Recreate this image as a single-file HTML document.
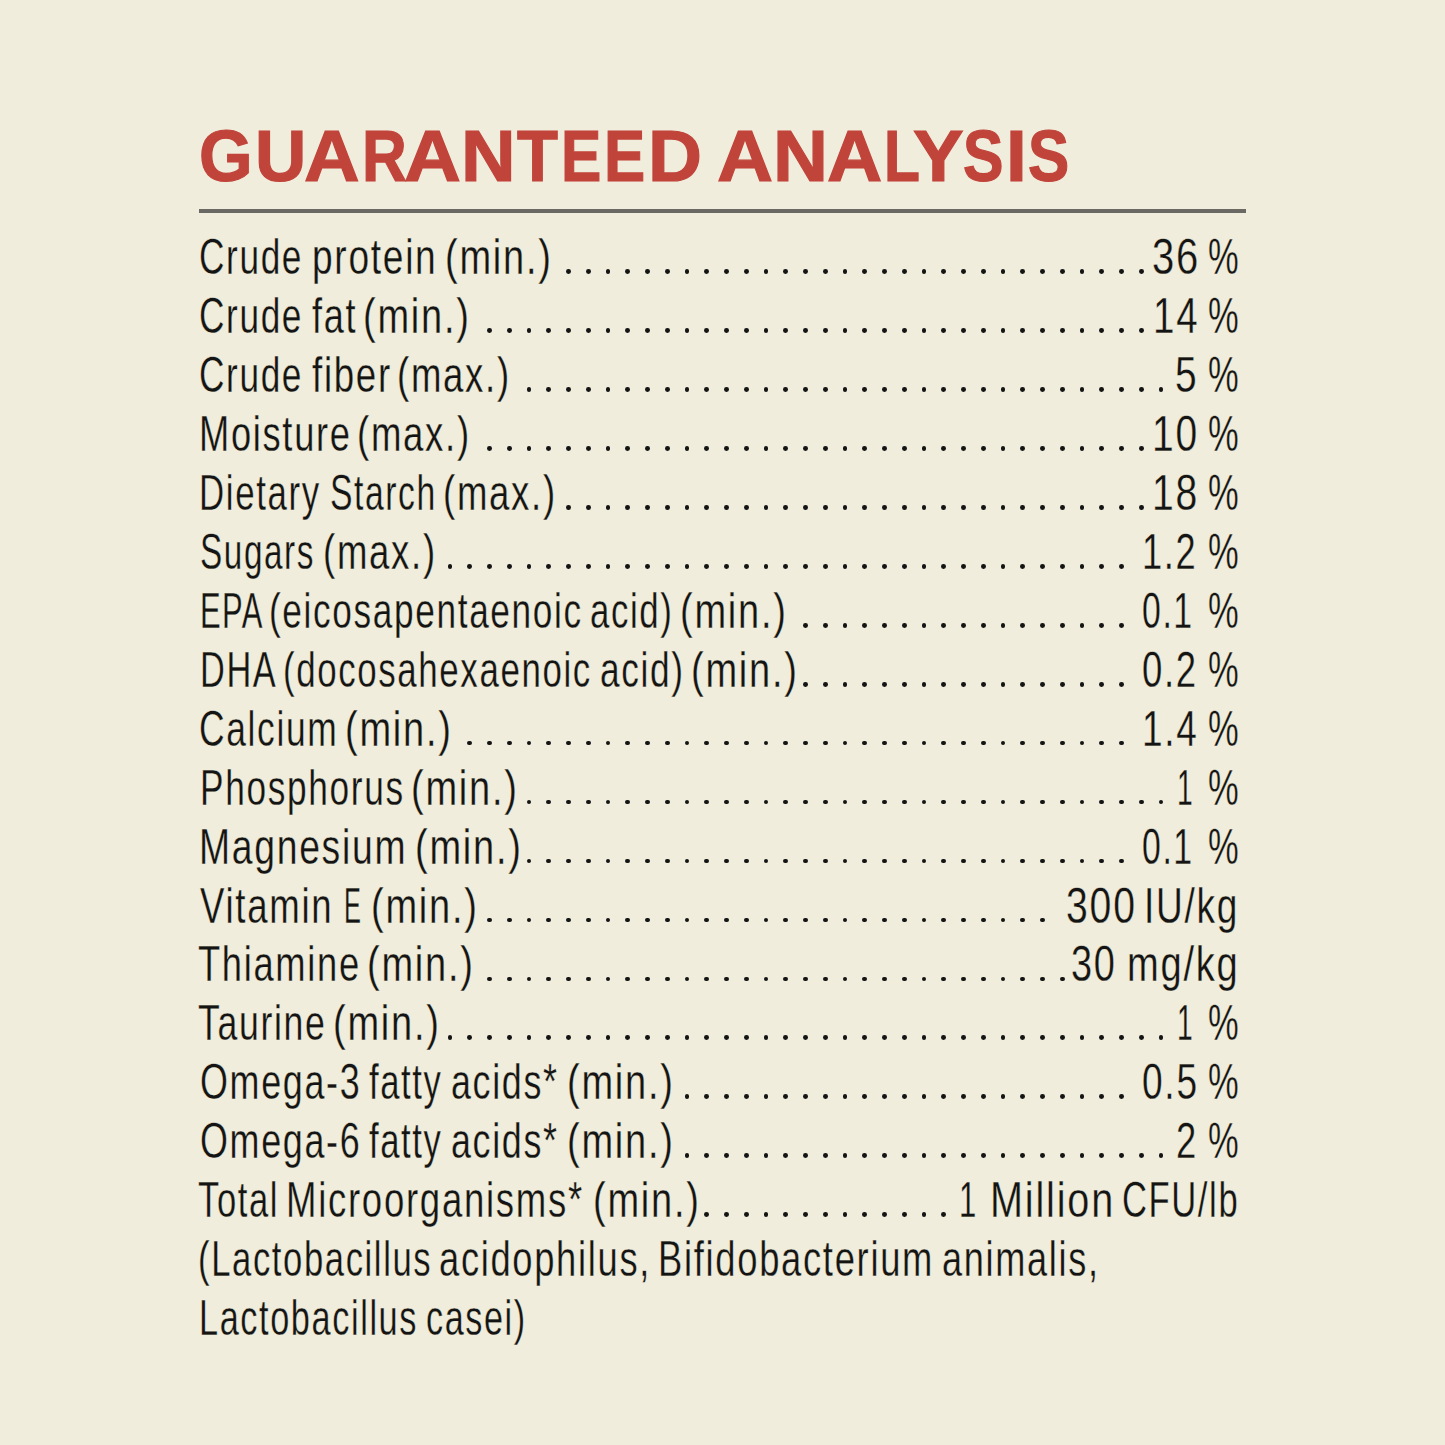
<!DOCTYPE html>
<html><head><meta charset="utf-8">
<style>
html,body{margin:0;padding:0;}
body{width:1445px;height:1445px;background:#F0EDDC;position:relative;overflow:hidden;font-family:"Liberation Sans",sans-serif;}
.w{position:absolute;white-space:nowrap;font-size:49.4px;line-height:49.4px;height:49.4px;color:#141414;transform-origin:0 0;letter-spacing:2.3px;-webkit-text-stroke:0.3px #F0EDDC;}
.d{position:absolute;width:4.8px;height:4.8px;border-radius:50%;background:#141414;}
h1{position:absolute;left:0;top:0;margin:0;width:0;height:0;font-size:0;}
h1 span{position:absolute;white-space:nowrap;font-weight:bold;-webkit-text-stroke:1.2px #C1443B;font-size:72.2px;line-height:72.2px;color:#C1443B;transform-origin:0 0;}
.rule{position:absolute;background:#6B6964;}
</style></head><body>
<h1><span style="left:199.21px;top:120.38px;transform:scaleX(0.9541)">G</span><span style="left:254.85px;top:120.38px;transform:scaleX(0.9839)">U</span><span style="left:304.49px;top:120.38px;transform:scaleX(1.0672)">A</span><span style="left:361.96px;top:120.38px;transform:scaleX(0.8582)">R</span><span style="left:403.96px;top:120.38px;transform:scaleX(1.0914)">A</span><span style="left:460.87px;top:120.38px;transform:scaleX(1.0478)">N</span><span style="left:516.89px;top:120.38px;transform:scaleX(0.9283)">T</span><span style="left:560.65px;top:120.38px;transform:scaleX(0.8366)">E</span><span style="left:604.07px;top:120.38px;transform:scaleX(0.8557)">E</span><span style="left:647.53px;top:120.38px;transform:scaleX(1.0348)">D</span><span style="left:716.68px;top:120.38px;transform:scaleX(1.0752)">A</span><span style="left:772.75px;top:120.38px;transform:scaleX(1.0547)">N</span><span style="left:827.30px;top:120.38px;transform:scaleX(1.0591)">A</span><span style="left:883.84px;top:120.38px;transform:scaleX(0.8145)">L</span><span style="left:912.71px;top:120.38px;transform:scaleX(1.0504)">Y</span><span style="left:962.56px;top:120.38px;transform:scaleX(0.8410)">S</span><span style="left:1006.12px;top:120.38px;transform:scaleX(1.0353)">I</span><span style="left:1028.04px;top:120.38px;transform:scaleX(0.8567)">S</span></h1>
<div class="rule" style="left:198.7px;top:209px;width:1047.3px;height:4px"></div>
<div class="w" style="left:198.94px;top:232.07px;transform:scaleX(0.7127)">Crude</div><div class="w" style="left:312.03px;top:232.07px;transform:scaleX(0.7508)">protein</div><div class="w" style="left:444.54px;top:232.07px;transform:scaleX(0.7692)">(min.)</div><div class="w" style="left:1151.74px;top:232.07px;transform:scaleX(0.8100)">36</div><div class="w" style="left:1207.50px;top:232.07px;transform:scaleX(0.6992)">%</div>
<div class="w" style="left:198.94px;top:291.02px;transform:scaleX(0.7127)">Crude</div><div class="w" style="left:311.72px;top:291.02px;transform:scaleX(0.7311)">fat</div><div class="w" style="left:363.24px;top:291.02px;transform:scaleX(0.7692)">(min.)</div><div class="w" style="left:1152.61px;top:291.02px;transform:scaleX(0.7772)">14</div><div class="w" style="left:1207.50px;top:291.02px;transform:scaleX(0.6992)">%</div>
<div class="w" style="left:198.94px;top:349.97px;transform:scaleX(0.7127)">Crude</div><div class="w" style="left:311.71px;top:349.97px;transform:scaleX(0.7420)">fiber</div><div class="w" style="left:397.43px;top:349.97px;transform:scaleX(0.7404)">(max.)</div><div class="w" style="left:1175.07px;top:349.97px;transform:scaleX(0.7884)">5</div><div class="w" style="left:1207.50px;top:349.97px;transform:scaleX(0.6992)">%</div>
<div class="w" style="left:199.34px;top:408.92px;transform:scaleX(0.7346)">Moisture</div><div class="w" style="left:357.13px;top:408.92px;transform:scaleX(0.7404)">(max.)</div><div class="w" style="left:1151.97px;top:408.92px;transform:scaleX(0.7889)">10</div><div class="w" style="left:1207.50px;top:408.92px;transform:scaleX(0.6992)">%</div>
<div class="w" style="left:198.76px;top:467.87px;transform:scaleX(0.7052)">Dietary</div><div class="w" style="left:329.98px;top:467.87px;transform:scaleX(0.6822)">Starch</div><div class="w" style="left:442.63px;top:467.87px;transform:scaleX(0.7404)">(max.)</div><div class="w" style="left:1151.96px;top:467.87px;transform:scaleX(0.7915)">18</div><div class="w" style="left:1207.50px;top:467.87px;transform:scaleX(0.6992)">%</div>
<div class="w" style="left:199.89px;top:526.82px;transform:scaleX(0.6752)">Sugars</div><div class="w" style="left:323.33px;top:526.82px;transform:scaleX(0.7404)">(max.)</div><div class="w" style="left:1142.48px;top:526.82px;transform:scaleX(0.7333)">1.2</div><div class="w" style="left:1207.50px;top:526.82px;transform:scaleX(0.6992)">%</div>
<div class="w" style="left:199.87px;top:585.77px;transform:scaleX(0.6265)">EPA</div><div class="w" style="left:269.21px;top:585.77px;transform:scaleX(0.7131)">(eicosapentaenoic</div><div class="w" style="left:590.32px;top:585.77px;transform:scaleX(0.7039)">acid)</div><div class="w" style="left:680.24px;top:585.77px;transform:scaleX(0.7692)">(min.)</div><div class="w" style="left:1142.15px;top:585.77px;transform:scaleX(0.6850)">0.1</div><div class="w" style="left:1207.50px;top:585.77px;transform:scaleX(0.6992)">%</div>
<div class="w" style="left:199.60px;top:644.72px;transform:scaleX(0.6954)">DHA</div><div class="w" style="left:282.53px;top:644.72px;transform:scaleX(0.7056)">(docosahexaenoic</div><div class="w" style="left:599.80px;top:644.72px;transform:scaleX(0.7138)">acid)</div><div class="w" style="left:690.64px;top:644.72px;transform:scaleX(0.7692)">(min.)</div><div class="w" style="left:1142.05px;top:644.72px;transform:scaleX(0.7394)">0.2</div><div class="w" style="left:1207.50px;top:644.72px;transform:scaleX(0.6992)">%</div>
<div class="w" style="left:198.83px;top:703.67px;transform:scaleX(0.7171)">Calcium</div><div class="w" style="left:345.29px;top:703.67px;transform:scaleX(0.7692)">(min.)</div><div class="w" style="left:1142.03px;top:703.67px;transform:scaleX(0.7472)">1.4</div><div class="w" style="left:1207.50px;top:703.67px;transform:scaleX(0.6992)">%</div>
<div class="w" style="left:200.12px;top:762.62px;transform:scaleX(0.7142)">Phosphorus</div><div class="w" style="left:411.39px;top:762.62px;transform:scaleX(0.7692)">(min.)</div><div class="w" style="left:1177.20px;top:762.62px;transform:scaleX(0.5711)">1</div><div class="w" style="left:1207.50px;top:762.62px;transform:scaleX(0.6992)">%</div>
<div class="w" style="left:198.86px;top:821.57px;transform:scaleX(0.7545)">Magnesium</div><div class="w" style="left:415.24px;top:821.57px;transform:scaleX(0.7692)">(min.)</div><div class="w" style="left:1142.15px;top:821.57px;transform:scaleX(0.6850)">0.1</div><div class="w" style="left:1207.50px;top:821.57px;transform:scaleX(0.6992)">%</div>
<div class="w" style="left:200.42px;top:880.52px;transform:scaleX(0.7408)">Vitamin</div><div class="w" style="left:344.23px;top:880.52px;transform:scaleX(0.5140)">E</div><div class="w" style="left:371.19px;top:880.52px;transform:scaleX(0.7692)">(min.)</div><div class="w" style="left:1066.48px;top:880.52px;transform:scaleX(0.7931)">300</div><div class="w" style="left:1144.23px;top:880.52px;transform:scaleX(0.7491)">IU/kg</div>
<div class="w" style="left:197.61px;top:939.47px;transform:scaleX(0.7349)">Thiamine</div><div class="w" style="left:367.09px;top:939.47px;transform:scaleX(0.7692)">(min.)</div><div class="w" style="left:1070.53px;top:939.47px;transform:scaleX(0.7678)">30</div><div class="w" style="left:1126.79px;top:939.47px;transform:scaleX(0.7703)">mg/kg</div>
<div class="w" style="left:197.62px;top:998.42px;transform:scaleX(0.7220)">Taurine</div><div class="w" style="left:332.89px;top:998.42px;transform:scaleX(0.7692)">(min.)</div><div class="w" style="left:1177.20px;top:998.42px;transform:scaleX(0.5711)">1</div><div class="w" style="left:1207.50px;top:998.42px;transform:scaleX(0.6992)">%</div>
<div class="w" style="left:199.51px;top:1057.37px;transform:scaleX(0.7269)">Omega-3</div><div class="w" style="left:369.15px;top:1057.37px;transform:scaleX(0.7009)">fatty</div><div class="w" style="left:451.27px;top:1057.37px;transform:scaleX(0.7263)">acids*</div><div class="w" style="left:567.34px;top:1057.37px;transform:scaleX(0.7692)">(min.)</div><div class="w" style="left:1141.72px;top:1057.37px;transform:scaleX(0.7511)">0.5</div><div class="w" style="left:1207.50px;top:1057.37px;transform:scaleX(0.6992)">%</div>
<div class="w" style="left:199.51px;top:1116.32px;transform:scaleX(0.7268)">Omega-6</div><div class="w" style="left:369.15px;top:1116.32px;transform:scaleX(0.7009)">fatty</div><div class="w" style="left:451.27px;top:1116.32px;transform:scaleX(0.7263)">acids*</div><div class="w" style="left:567.34px;top:1116.32px;transform:scaleX(0.7692)">(min.)</div><div class="w" style="left:1175.66px;top:1116.32px;transform:scaleX(0.7377)">2</div><div class="w" style="left:1207.50px;top:1116.32px;transform:scaleX(0.6992)">%</div>
<div class="w" style="left:197.85px;top:1175.27px;transform:scaleX(0.6998)">Total</div><div class="w" style="left:286.31px;top:1175.27px;transform:scaleX(0.7405)">Microorganisms*</div><div class="w" style="left:592.89px;top:1175.27px;transform:scaleX(0.7692)">(min.)</div><div class="w" style="left:958.79px;top:1175.27px;transform:scaleX(0.6277)">1</div><div class="w" style="left:989.67px;top:1175.27px;transform:scaleX(0.8015)">Million</div><div class="w" style="left:1121.67px;top:1175.27px;transform:scaleX(0.6999)">CFU/lb</div>
<div class="w" style="left:197.65px;top:1234.22px;transform:scaleX(0.7010)">(Lactobacillus</div><div class="w" style="left:439.25px;top:1234.22px;transform:scaleX(0.7350)">acidophilus,</div><div class="w" style="left:657.73px;top:1234.22px;transform:scaleX(0.7364)">Bifidobacterium</div><div class="w" style="left:942.46px;top:1234.22px;transform:scaleX(0.7314)">animalis,</div>
<div class="w" style="left:198.60px;top:1293.17px;transform:scaleX(0.6943)">Lactobacillus</div><div class="w" style="left:425.97px;top:1293.17px;transform:scaleX(0.6921)">casei)</div>
<div class="d" style="left:566.00px;top:269.10px"></div><div class="d" style="left:585.75px;top:269.10px"></div><div class="d" style="left:605.50px;top:269.10px"></div><div class="d" style="left:625.25px;top:269.10px"></div><div class="d" style="left:645.00px;top:269.10px"></div><div class="d" style="left:664.75px;top:269.10px"></div><div class="d" style="left:684.50px;top:269.10px"></div><div class="d" style="left:704.25px;top:269.10px"></div><div class="d" style="left:724.00px;top:269.10px"></div><div class="d" style="left:743.75px;top:269.10px"></div><div class="d" style="left:763.50px;top:269.10px"></div><div class="d" style="left:783.25px;top:269.10px"></div><div class="d" style="left:803.00px;top:269.10px"></div><div class="d" style="left:822.75px;top:269.10px"></div><div class="d" style="left:842.50px;top:269.10px"></div><div class="d" style="left:862.25px;top:269.10px"></div><div class="d" style="left:882.00px;top:269.10px"></div><div class="d" style="left:901.75px;top:269.10px"></div><div class="d" style="left:921.50px;top:269.10px"></div><div class="d" style="left:941.25px;top:269.10px"></div><div class="d" style="left:961.00px;top:269.10px"></div><div class="d" style="left:980.75px;top:269.10px"></div><div class="d" style="left:1000.50px;top:269.10px"></div><div class="d" style="left:1020.25px;top:269.10px"></div><div class="d" style="left:1040.00px;top:269.10px"></div><div class="d" style="left:1059.75px;top:269.10px"></div><div class="d" style="left:1079.50px;top:269.10px"></div><div class="d" style="left:1099.25px;top:269.10px"></div><div class="d" style="left:1119.00px;top:269.10px"></div><div class="d" style="left:1138.75px;top:269.10px"></div>
<div class="d" style="left:487.00px;top:328.05px"></div><div class="d" style="left:506.75px;top:328.05px"></div><div class="d" style="left:526.50px;top:328.05px"></div><div class="d" style="left:546.25px;top:328.05px"></div><div class="d" style="left:566.00px;top:328.05px"></div><div class="d" style="left:585.75px;top:328.05px"></div><div class="d" style="left:605.50px;top:328.05px"></div><div class="d" style="left:625.25px;top:328.05px"></div><div class="d" style="left:645.00px;top:328.05px"></div><div class="d" style="left:664.75px;top:328.05px"></div><div class="d" style="left:684.50px;top:328.05px"></div><div class="d" style="left:704.25px;top:328.05px"></div><div class="d" style="left:724.00px;top:328.05px"></div><div class="d" style="left:743.75px;top:328.05px"></div><div class="d" style="left:763.50px;top:328.05px"></div><div class="d" style="left:783.25px;top:328.05px"></div><div class="d" style="left:803.00px;top:328.05px"></div><div class="d" style="left:822.75px;top:328.05px"></div><div class="d" style="left:842.50px;top:328.05px"></div><div class="d" style="left:862.25px;top:328.05px"></div><div class="d" style="left:882.00px;top:328.05px"></div><div class="d" style="left:901.75px;top:328.05px"></div><div class="d" style="left:921.50px;top:328.05px"></div><div class="d" style="left:941.25px;top:328.05px"></div><div class="d" style="left:961.00px;top:328.05px"></div><div class="d" style="left:980.75px;top:328.05px"></div><div class="d" style="left:1000.50px;top:328.05px"></div><div class="d" style="left:1020.25px;top:328.05px"></div><div class="d" style="left:1040.00px;top:328.05px"></div><div class="d" style="left:1059.75px;top:328.05px"></div><div class="d" style="left:1079.50px;top:328.05px"></div><div class="d" style="left:1099.25px;top:328.05px"></div><div class="d" style="left:1119.00px;top:328.05px"></div><div class="d" style="left:1138.75px;top:328.05px"></div>
<div class="d" style="left:526.50px;top:387.00px"></div><div class="d" style="left:546.25px;top:387.00px"></div><div class="d" style="left:566.00px;top:387.00px"></div><div class="d" style="left:585.75px;top:387.00px"></div><div class="d" style="left:605.50px;top:387.00px"></div><div class="d" style="left:625.25px;top:387.00px"></div><div class="d" style="left:645.00px;top:387.00px"></div><div class="d" style="left:664.75px;top:387.00px"></div><div class="d" style="left:684.50px;top:387.00px"></div><div class="d" style="left:704.25px;top:387.00px"></div><div class="d" style="left:724.00px;top:387.00px"></div><div class="d" style="left:743.75px;top:387.00px"></div><div class="d" style="left:763.50px;top:387.00px"></div><div class="d" style="left:783.25px;top:387.00px"></div><div class="d" style="left:803.00px;top:387.00px"></div><div class="d" style="left:822.75px;top:387.00px"></div><div class="d" style="left:842.50px;top:387.00px"></div><div class="d" style="left:862.25px;top:387.00px"></div><div class="d" style="left:882.00px;top:387.00px"></div><div class="d" style="left:901.75px;top:387.00px"></div><div class="d" style="left:921.50px;top:387.00px"></div><div class="d" style="left:941.25px;top:387.00px"></div><div class="d" style="left:961.00px;top:387.00px"></div><div class="d" style="left:980.75px;top:387.00px"></div><div class="d" style="left:1000.50px;top:387.00px"></div><div class="d" style="left:1020.25px;top:387.00px"></div><div class="d" style="left:1040.00px;top:387.00px"></div><div class="d" style="left:1059.75px;top:387.00px"></div><div class="d" style="left:1079.50px;top:387.00px"></div><div class="d" style="left:1099.25px;top:387.00px"></div><div class="d" style="left:1119.00px;top:387.00px"></div><div class="d" style="left:1138.75px;top:387.00px"></div><div class="d" style="left:1158.50px;top:387.00px"></div>
<div class="d" style="left:487.00px;top:445.95px"></div><div class="d" style="left:506.75px;top:445.95px"></div><div class="d" style="left:526.50px;top:445.95px"></div><div class="d" style="left:546.25px;top:445.95px"></div><div class="d" style="left:566.00px;top:445.95px"></div><div class="d" style="left:585.75px;top:445.95px"></div><div class="d" style="left:605.50px;top:445.95px"></div><div class="d" style="left:625.25px;top:445.95px"></div><div class="d" style="left:645.00px;top:445.95px"></div><div class="d" style="left:664.75px;top:445.95px"></div><div class="d" style="left:684.50px;top:445.95px"></div><div class="d" style="left:704.25px;top:445.95px"></div><div class="d" style="left:724.00px;top:445.95px"></div><div class="d" style="left:743.75px;top:445.95px"></div><div class="d" style="left:763.50px;top:445.95px"></div><div class="d" style="left:783.25px;top:445.95px"></div><div class="d" style="left:803.00px;top:445.95px"></div><div class="d" style="left:822.75px;top:445.95px"></div><div class="d" style="left:842.50px;top:445.95px"></div><div class="d" style="left:862.25px;top:445.95px"></div><div class="d" style="left:882.00px;top:445.95px"></div><div class="d" style="left:901.75px;top:445.95px"></div><div class="d" style="left:921.50px;top:445.95px"></div><div class="d" style="left:941.25px;top:445.95px"></div><div class="d" style="left:961.00px;top:445.95px"></div><div class="d" style="left:980.75px;top:445.95px"></div><div class="d" style="left:1000.50px;top:445.95px"></div><div class="d" style="left:1020.25px;top:445.95px"></div><div class="d" style="left:1040.00px;top:445.95px"></div><div class="d" style="left:1059.75px;top:445.95px"></div><div class="d" style="left:1079.50px;top:445.95px"></div><div class="d" style="left:1099.25px;top:445.95px"></div><div class="d" style="left:1119.00px;top:445.95px"></div><div class="d" style="left:1138.75px;top:445.95px"></div>
<div class="d" style="left:566.00px;top:504.90px"></div><div class="d" style="left:585.75px;top:504.90px"></div><div class="d" style="left:605.50px;top:504.90px"></div><div class="d" style="left:625.25px;top:504.90px"></div><div class="d" style="left:645.00px;top:504.90px"></div><div class="d" style="left:664.75px;top:504.90px"></div><div class="d" style="left:684.50px;top:504.90px"></div><div class="d" style="left:704.25px;top:504.90px"></div><div class="d" style="left:724.00px;top:504.90px"></div><div class="d" style="left:743.75px;top:504.90px"></div><div class="d" style="left:763.50px;top:504.90px"></div><div class="d" style="left:783.25px;top:504.90px"></div><div class="d" style="left:803.00px;top:504.90px"></div><div class="d" style="left:822.75px;top:504.90px"></div><div class="d" style="left:842.50px;top:504.90px"></div><div class="d" style="left:862.25px;top:504.90px"></div><div class="d" style="left:882.00px;top:504.90px"></div><div class="d" style="left:901.75px;top:504.90px"></div><div class="d" style="left:921.50px;top:504.90px"></div><div class="d" style="left:941.25px;top:504.90px"></div><div class="d" style="left:961.00px;top:504.90px"></div><div class="d" style="left:980.75px;top:504.90px"></div><div class="d" style="left:1000.50px;top:504.90px"></div><div class="d" style="left:1020.25px;top:504.90px"></div><div class="d" style="left:1040.00px;top:504.90px"></div><div class="d" style="left:1059.75px;top:504.90px"></div><div class="d" style="left:1079.50px;top:504.90px"></div><div class="d" style="left:1099.25px;top:504.90px"></div><div class="d" style="left:1119.00px;top:504.90px"></div><div class="d" style="left:1138.75px;top:504.90px"></div>
<div class="d" style="left:447.50px;top:563.85px"></div><div class="d" style="left:467.25px;top:563.85px"></div><div class="d" style="left:487.00px;top:563.85px"></div><div class="d" style="left:506.75px;top:563.85px"></div><div class="d" style="left:526.50px;top:563.85px"></div><div class="d" style="left:546.25px;top:563.85px"></div><div class="d" style="left:566.00px;top:563.85px"></div><div class="d" style="left:585.75px;top:563.85px"></div><div class="d" style="left:605.50px;top:563.85px"></div><div class="d" style="left:625.25px;top:563.85px"></div><div class="d" style="left:645.00px;top:563.85px"></div><div class="d" style="left:664.75px;top:563.85px"></div><div class="d" style="left:684.50px;top:563.85px"></div><div class="d" style="left:704.25px;top:563.85px"></div><div class="d" style="left:724.00px;top:563.85px"></div><div class="d" style="left:743.75px;top:563.85px"></div><div class="d" style="left:763.50px;top:563.85px"></div><div class="d" style="left:783.25px;top:563.85px"></div><div class="d" style="left:803.00px;top:563.85px"></div><div class="d" style="left:822.75px;top:563.85px"></div><div class="d" style="left:842.50px;top:563.85px"></div><div class="d" style="left:862.25px;top:563.85px"></div><div class="d" style="left:882.00px;top:563.85px"></div><div class="d" style="left:901.75px;top:563.85px"></div><div class="d" style="left:921.50px;top:563.85px"></div><div class="d" style="left:941.25px;top:563.85px"></div><div class="d" style="left:961.00px;top:563.85px"></div><div class="d" style="left:980.75px;top:563.85px"></div><div class="d" style="left:1000.50px;top:563.85px"></div><div class="d" style="left:1020.25px;top:563.85px"></div><div class="d" style="left:1040.00px;top:563.85px"></div><div class="d" style="left:1059.75px;top:563.85px"></div><div class="d" style="left:1079.50px;top:563.85px"></div><div class="d" style="left:1099.25px;top:563.85px"></div><div class="d" style="left:1119.00px;top:563.85px"></div>
<div class="d" style="left:803.00px;top:622.80px"></div><div class="d" style="left:822.75px;top:622.80px"></div><div class="d" style="left:842.50px;top:622.80px"></div><div class="d" style="left:862.25px;top:622.80px"></div><div class="d" style="left:882.00px;top:622.80px"></div><div class="d" style="left:901.75px;top:622.80px"></div><div class="d" style="left:921.50px;top:622.80px"></div><div class="d" style="left:941.25px;top:622.80px"></div><div class="d" style="left:961.00px;top:622.80px"></div><div class="d" style="left:980.75px;top:622.80px"></div><div class="d" style="left:1000.50px;top:622.80px"></div><div class="d" style="left:1020.25px;top:622.80px"></div><div class="d" style="left:1040.00px;top:622.80px"></div><div class="d" style="left:1059.75px;top:622.80px"></div><div class="d" style="left:1079.50px;top:622.80px"></div><div class="d" style="left:1099.25px;top:622.80px"></div><div class="d" style="left:1119.00px;top:622.80px"></div>
<div class="d" style="left:803.00px;top:681.75px"></div><div class="d" style="left:822.75px;top:681.75px"></div><div class="d" style="left:842.50px;top:681.75px"></div><div class="d" style="left:862.25px;top:681.75px"></div><div class="d" style="left:882.00px;top:681.75px"></div><div class="d" style="left:901.75px;top:681.75px"></div><div class="d" style="left:921.50px;top:681.75px"></div><div class="d" style="left:941.25px;top:681.75px"></div><div class="d" style="left:961.00px;top:681.75px"></div><div class="d" style="left:980.75px;top:681.75px"></div><div class="d" style="left:1000.50px;top:681.75px"></div><div class="d" style="left:1020.25px;top:681.75px"></div><div class="d" style="left:1040.00px;top:681.75px"></div><div class="d" style="left:1059.75px;top:681.75px"></div><div class="d" style="left:1079.50px;top:681.75px"></div><div class="d" style="left:1099.25px;top:681.75px"></div><div class="d" style="left:1119.00px;top:681.75px"></div>
<div class="d" style="left:467.25px;top:740.70px"></div><div class="d" style="left:487.00px;top:740.70px"></div><div class="d" style="left:506.75px;top:740.70px"></div><div class="d" style="left:526.50px;top:740.70px"></div><div class="d" style="left:546.25px;top:740.70px"></div><div class="d" style="left:566.00px;top:740.70px"></div><div class="d" style="left:585.75px;top:740.70px"></div><div class="d" style="left:605.50px;top:740.70px"></div><div class="d" style="left:625.25px;top:740.70px"></div><div class="d" style="left:645.00px;top:740.70px"></div><div class="d" style="left:664.75px;top:740.70px"></div><div class="d" style="left:684.50px;top:740.70px"></div><div class="d" style="left:704.25px;top:740.70px"></div><div class="d" style="left:724.00px;top:740.70px"></div><div class="d" style="left:743.75px;top:740.70px"></div><div class="d" style="left:763.50px;top:740.70px"></div><div class="d" style="left:783.25px;top:740.70px"></div><div class="d" style="left:803.00px;top:740.70px"></div><div class="d" style="left:822.75px;top:740.70px"></div><div class="d" style="left:842.50px;top:740.70px"></div><div class="d" style="left:862.25px;top:740.70px"></div><div class="d" style="left:882.00px;top:740.70px"></div><div class="d" style="left:901.75px;top:740.70px"></div><div class="d" style="left:921.50px;top:740.70px"></div><div class="d" style="left:941.25px;top:740.70px"></div><div class="d" style="left:961.00px;top:740.70px"></div><div class="d" style="left:980.75px;top:740.70px"></div><div class="d" style="left:1000.50px;top:740.70px"></div><div class="d" style="left:1020.25px;top:740.70px"></div><div class="d" style="left:1040.00px;top:740.70px"></div><div class="d" style="left:1059.75px;top:740.70px"></div><div class="d" style="left:1079.50px;top:740.70px"></div><div class="d" style="left:1099.25px;top:740.70px"></div><div class="d" style="left:1119.00px;top:740.70px"></div>
<div class="d" style="left:526.50px;top:799.65px"></div><div class="d" style="left:546.25px;top:799.65px"></div><div class="d" style="left:566.00px;top:799.65px"></div><div class="d" style="left:585.75px;top:799.65px"></div><div class="d" style="left:605.50px;top:799.65px"></div><div class="d" style="left:625.25px;top:799.65px"></div><div class="d" style="left:645.00px;top:799.65px"></div><div class="d" style="left:664.75px;top:799.65px"></div><div class="d" style="left:684.50px;top:799.65px"></div><div class="d" style="left:704.25px;top:799.65px"></div><div class="d" style="left:724.00px;top:799.65px"></div><div class="d" style="left:743.75px;top:799.65px"></div><div class="d" style="left:763.50px;top:799.65px"></div><div class="d" style="left:783.25px;top:799.65px"></div><div class="d" style="left:803.00px;top:799.65px"></div><div class="d" style="left:822.75px;top:799.65px"></div><div class="d" style="left:842.50px;top:799.65px"></div><div class="d" style="left:862.25px;top:799.65px"></div><div class="d" style="left:882.00px;top:799.65px"></div><div class="d" style="left:901.75px;top:799.65px"></div><div class="d" style="left:921.50px;top:799.65px"></div><div class="d" style="left:941.25px;top:799.65px"></div><div class="d" style="left:961.00px;top:799.65px"></div><div class="d" style="left:980.75px;top:799.65px"></div><div class="d" style="left:1000.50px;top:799.65px"></div><div class="d" style="left:1020.25px;top:799.65px"></div><div class="d" style="left:1040.00px;top:799.65px"></div><div class="d" style="left:1059.75px;top:799.65px"></div><div class="d" style="left:1079.50px;top:799.65px"></div><div class="d" style="left:1099.25px;top:799.65px"></div><div class="d" style="left:1119.00px;top:799.65px"></div><div class="d" style="left:1138.75px;top:799.65px"></div><div class="d" style="left:1158.50px;top:799.65px"></div>
<div class="d" style="left:526.50px;top:858.60px"></div><div class="d" style="left:546.25px;top:858.60px"></div><div class="d" style="left:566.00px;top:858.60px"></div><div class="d" style="left:585.75px;top:858.60px"></div><div class="d" style="left:605.50px;top:858.60px"></div><div class="d" style="left:625.25px;top:858.60px"></div><div class="d" style="left:645.00px;top:858.60px"></div><div class="d" style="left:664.75px;top:858.60px"></div><div class="d" style="left:684.50px;top:858.60px"></div><div class="d" style="left:704.25px;top:858.60px"></div><div class="d" style="left:724.00px;top:858.60px"></div><div class="d" style="left:743.75px;top:858.60px"></div><div class="d" style="left:763.50px;top:858.60px"></div><div class="d" style="left:783.25px;top:858.60px"></div><div class="d" style="left:803.00px;top:858.60px"></div><div class="d" style="left:822.75px;top:858.60px"></div><div class="d" style="left:842.50px;top:858.60px"></div><div class="d" style="left:862.25px;top:858.60px"></div><div class="d" style="left:882.00px;top:858.60px"></div><div class="d" style="left:901.75px;top:858.60px"></div><div class="d" style="left:921.50px;top:858.60px"></div><div class="d" style="left:941.25px;top:858.60px"></div><div class="d" style="left:961.00px;top:858.60px"></div><div class="d" style="left:980.75px;top:858.60px"></div><div class="d" style="left:1000.50px;top:858.60px"></div><div class="d" style="left:1020.25px;top:858.60px"></div><div class="d" style="left:1040.00px;top:858.60px"></div><div class="d" style="left:1059.75px;top:858.60px"></div><div class="d" style="left:1079.50px;top:858.60px"></div><div class="d" style="left:1099.25px;top:858.60px"></div><div class="d" style="left:1119.00px;top:858.60px"></div>
<div class="d" style="left:487.00px;top:917.55px"></div><div class="d" style="left:506.75px;top:917.55px"></div><div class="d" style="left:526.50px;top:917.55px"></div><div class="d" style="left:546.25px;top:917.55px"></div><div class="d" style="left:566.00px;top:917.55px"></div><div class="d" style="left:585.75px;top:917.55px"></div><div class="d" style="left:605.50px;top:917.55px"></div><div class="d" style="left:625.25px;top:917.55px"></div><div class="d" style="left:645.00px;top:917.55px"></div><div class="d" style="left:664.75px;top:917.55px"></div><div class="d" style="left:684.50px;top:917.55px"></div><div class="d" style="left:704.25px;top:917.55px"></div><div class="d" style="left:724.00px;top:917.55px"></div><div class="d" style="left:743.75px;top:917.55px"></div><div class="d" style="left:763.50px;top:917.55px"></div><div class="d" style="left:783.25px;top:917.55px"></div><div class="d" style="left:803.00px;top:917.55px"></div><div class="d" style="left:822.75px;top:917.55px"></div><div class="d" style="left:842.50px;top:917.55px"></div><div class="d" style="left:862.25px;top:917.55px"></div><div class="d" style="left:882.00px;top:917.55px"></div><div class="d" style="left:901.75px;top:917.55px"></div><div class="d" style="left:921.50px;top:917.55px"></div><div class="d" style="left:941.25px;top:917.55px"></div><div class="d" style="left:961.00px;top:917.55px"></div><div class="d" style="left:980.75px;top:917.55px"></div><div class="d" style="left:1000.50px;top:917.55px"></div><div class="d" style="left:1020.25px;top:917.55px"></div><div class="d" style="left:1040.00px;top:917.55px"></div>
<div class="d" style="left:487.00px;top:976.50px"></div><div class="d" style="left:506.75px;top:976.50px"></div><div class="d" style="left:526.50px;top:976.50px"></div><div class="d" style="left:546.25px;top:976.50px"></div><div class="d" style="left:566.00px;top:976.50px"></div><div class="d" style="left:585.75px;top:976.50px"></div><div class="d" style="left:605.50px;top:976.50px"></div><div class="d" style="left:625.25px;top:976.50px"></div><div class="d" style="left:645.00px;top:976.50px"></div><div class="d" style="left:664.75px;top:976.50px"></div><div class="d" style="left:684.50px;top:976.50px"></div><div class="d" style="left:704.25px;top:976.50px"></div><div class="d" style="left:724.00px;top:976.50px"></div><div class="d" style="left:743.75px;top:976.50px"></div><div class="d" style="left:763.50px;top:976.50px"></div><div class="d" style="left:783.25px;top:976.50px"></div><div class="d" style="left:803.00px;top:976.50px"></div><div class="d" style="left:822.75px;top:976.50px"></div><div class="d" style="left:842.50px;top:976.50px"></div><div class="d" style="left:862.25px;top:976.50px"></div><div class="d" style="left:882.00px;top:976.50px"></div><div class="d" style="left:901.75px;top:976.50px"></div><div class="d" style="left:921.50px;top:976.50px"></div><div class="d" style="left:941.25px;top:976.50px"></div><div class="d" style="left:961.00px;top:976.50px"></div><div class="d" style="left:980.75px;top:976.50px"></div><div class="d" style="left:1000.50px;top:976.50px"></div><div class="d" style="left:1020.25px;top:976.50px"></div><div class="d" style="left:1040.00px;top:976.50px"></div><div class="d" style="left:1059.75px;top:976.50px"></div>
<div class="d" style="left:447.50px;top:1035.45px"></div><div class="d" style="left:467.25px;top:1035.45px"></div><div class="d" style="left:487.00px;top:1035.45px"></div><div class="d" style="left:506.75px;top:1035.45px"></div><div class="d" style="left:526.50px;top:1035.45px"></div><div class="d" style="left:546.25px;top:1035.45px"></div><div class="d" style="left:566.00px;top:1035.45px"></div><div class="d" style="left:585.75px;top:1035.45px"></div><div class="d" style="left:605.50px;top:1035.45px"></div><div class="d" style="left:625.25px;top:1035.45px"></div><div class="d" style="left:645.00px;top:1035.45px"></div><div class="d" style="left:664.75px;top:1035.45px"></div><div class="d" style="left:684.50px;top:1035.45px"></div><div class="d" style="left:704.25px;top:1035.45px"></div><div class="d" style="left:724.00px;top:1035.45px"></div><div class="d" style="left:743.75px;top:1035.45px"></div><div class="d" style="left:763.50px;top:1035.45px"></div><div class="d" style="left:783.25px;top:1035.45px"></div><div class="d" style="left:803.00px;top:1035.45px"></div><div class="d" style="left:822.75px;top:1035.45px"></div><div class="d" style="left:842.50px;top:1035.45px"></div><div class="d" style="left:862.25px;top:1035.45px"></div><div class="d" style="left:882.00px;top:1035.45px"></div><div class="d" style="left:901.75px;top:1035.45px"></div><div class="d" style="left:921.50px;top:1035.45px"></div><div class="d" style="left:941.25px;top:1035.45px"></div><div class="d" style="left:961.00px;top:1035.45px"></div><div class="d" style="left:980.75px;top:1035.45px"></div><div class="d" style="left:1000.50px;top:1035.45px"></div><div class="d" style="left:1020.25px;top:1035.45px"></div><div class="d" style="left:1040.00px;top:1035.45px"></div><div class="d" style="left:1059.75px;top:1035.45px"></div><div class="d" style="left:1079.50px;top:1035.45px"></div><div class="d" style="left:1099.25px;top:1035.45px"></div><div class="d" style="left:1119.00px;top:1035.45px"></div><div class="d" style="left:1138.75px;top:1035.45px"></div><div class="d" style="left:1158.50px;top:1035.45px"></div>
<div class="d" style="left:684.50px;top:1094.40px"></div><div class="d" style="left:704.25px;top:1094.40px"></div><div class="d" style="left:724.00px;top:1094.40px"></div><div class="d" style="left:743.75px;top:1094.40px"></div><div class="d" style="left:763.50px;top:1094.40px"></div><div class="d" style="left:783.25px;top:1094.40px"></div><div class="d" style="left:803.00px;top:1094.40px"></div><div class="d" style="left:822.75px;top:1094.40px"></div><div class="d" style="left:842.50px;top:1094.40px"></div><div class="d" style="left:862.25px;top:1094.40px"></div><div class="d" style="left:882.00px;top:1094.40px"></div><div class="d" style="left:901.75px;top:1094.40px"></div><div class="d" style="left:921.50px;top:1094.40px"></div><div class="d" style="left:941.25px;top:1094.40px"></div><div class="d" style="left:961.00px;top:1094.40px"></div><div class="d" style="left:980.75px;top:1094.40px"></div><div class="d" style="left:1000.50px;top:1094.40px"></div><div class="d" style="left:1020.25px;top:1094.40px"></div><div class="d" style="left:1040.00px;top:1094.40px"></div><div class="d" style="left:1059.75px;top:1094.40px"></div><div class="d" style="left:1079.50px;top:1094.40px"></div><div class="d" style="left:1099.25px;top:1094.40px"></div><div class="d" style="left:1119.00px;top:1094.40px"></div>
<div class="d" style="left:684.50px;top:1153.35px"></div><div class="d" style="left:704.25px;top:1153.35px"></div><div class="d" style="left:724.00px;top:1153.35px"></div><div class="d" style="left:743.75px;top:1153.35px"></div><div class="d" style="left:763.50px;top:1153.35px"></div><div class="d" style="left:783.25px;top:1153.35px"></div><div class="d" style="left:803.00px;top:1153.35px"></div><div class="d" style="left:822.75px;top:1153.35px"></div><div class="d" style="left:842.50px;top:1153.35px"></div><div class="d" style="left:862.25px;top:1153.35px"></div><div class="d" style="left:882.00px;top:1153.35px"></div><div class="d" style="left:901.75px;top:1153.35px"></div><div class="d" style="left:921.50px;top:1153.35px"></div><div class="d" style="left:941.25px;top:1153.35px"></div><div class="d" style="left:961.00px;top:1153.35px"></div><div class="d" style="left:980.75px;top:1153.35px"></div><div class="d" style="left:1000.50px;top:1153.35px"></div><div class="d" style="left:1020.25px;top:1153.35px"></div><div class="d" style="left:1040.00px;top:1153.35px"></div><div class="d" style="left:1059.75px;top:1153.35px"></div><div class="d" style="left:1079.50px;top:1153.35px"></div><div class="d" style="left:1099.25px;top:1153.35px"></div><div class="d" style="left:1119.00px;top:1153.35px"></div><div class="d" style="left:1138.75px;top:1153.35px"></div><div class="d" style="left:1158.50px;top:1153.35px"></div>
<div class="d" style="left:704.25px;top:1212.30px"></div><div class="d" style="left:724.00px;top:1212.30px"></div><div class="d" style="left:743.75px;top:1212.30px"></div><div class="d" style="left:763.50px;top:1212.30px"></div><div class="d" style="left:783.25px;top:1212.30px"></div><div class="d" style="left:803.00px;top:1212.30px"></div><div class="d" style="left:822.75px;top:1212.30px"></div><div class="d" style="left:842.50px;top:1212.30px"></div><div class="d" style="left:862.25px;top:1212.30px"></div><div class="d" style="left:882.00px;top:1212.30px"></div><div class="d" style="left:901.75px;top:1212.30px"></div><div class="d" style="left:921.50px;top:1212.30px"></div><div class="d" style="left:941.25px;top:1212.30px"></div>
</body></html>
